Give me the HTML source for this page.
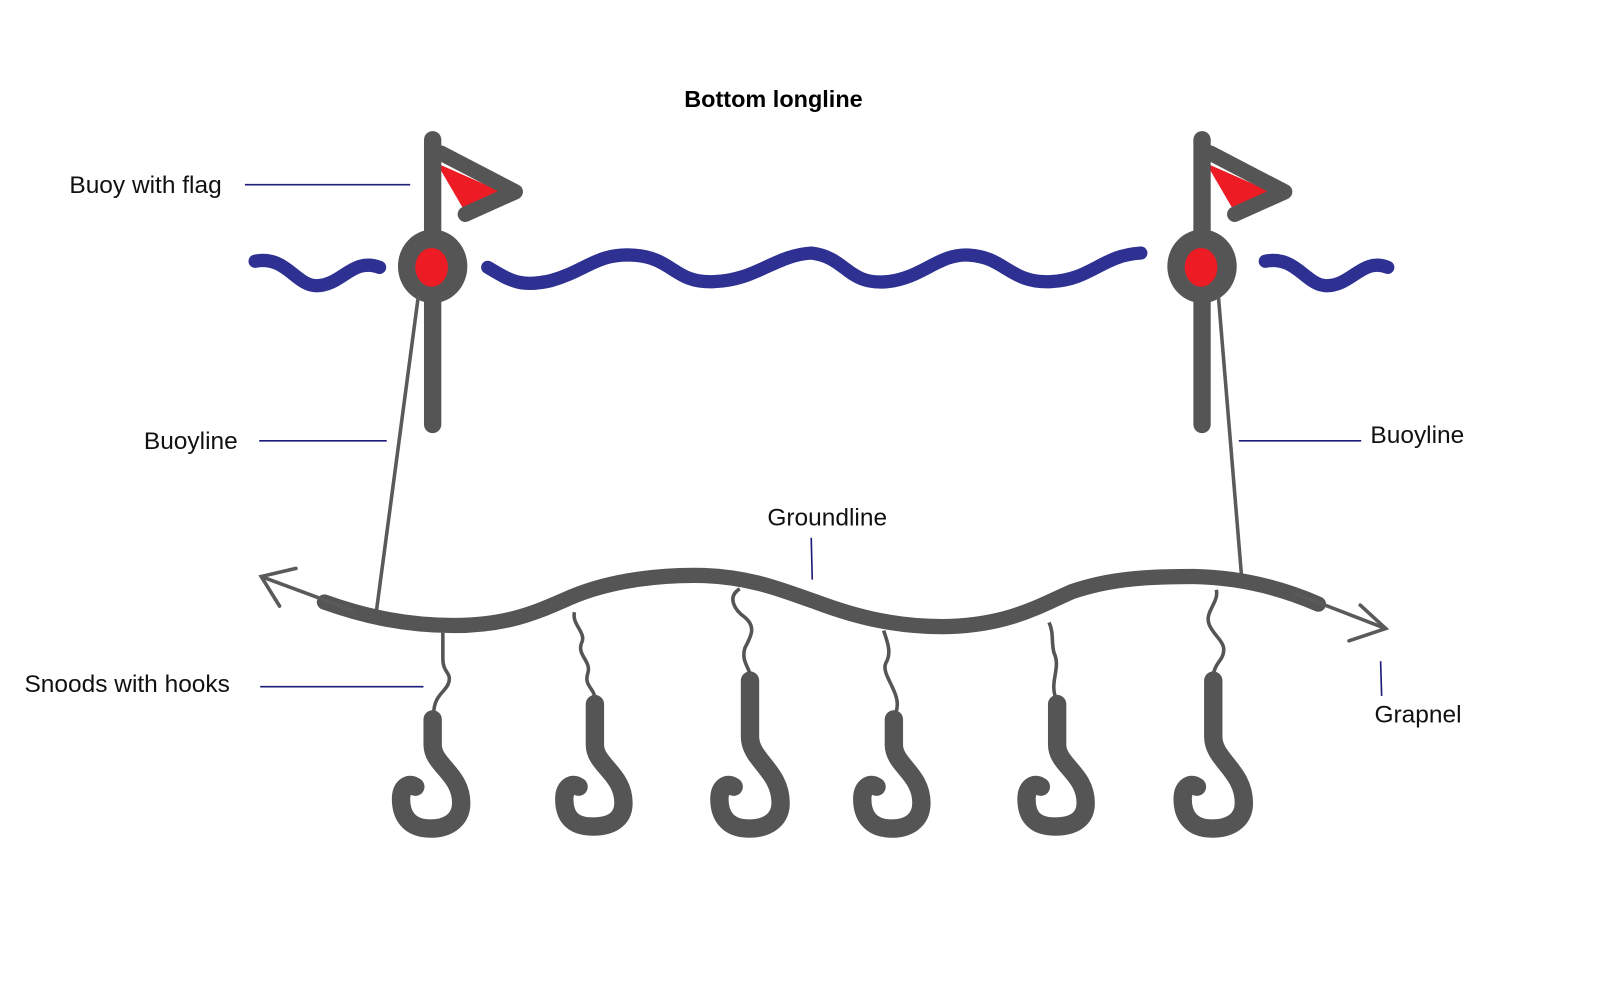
<!DOCTYPE html>
<html><head><style>html,body{margin:0;padding:0;background:#fff}svg{display:block}</style></head>
<body>
<svg width="1600" height="1000" viewBox="0 0 1568 980" preserveAspectRatio="none" xmlns="http://www.w3.org/2000/svg" font-family="Liberation Sans, sans-serif">
<rect width="1568" height="980" fill="#fff"/>
<text x="758" y="105" font-size="23" font-weight="bold" text-anchor="middle" fill="#000">Bottom longline</text>
<g font-size="24" fill="#111">
<text x="68" y="189">Buoy with flag</text>
<text x="141" y="440">Buoyline</text>
<text x="1343" y="434">Buoyline</text>
<text x="752" y="515">Groundline</text>
<text x="24" y="678">Snoods with hooks</text>
<text x="1347" y="708">Grapnel</text>
</g>
<g stroke="#1c1c7a" stroke-width="1.6">
<line x1="240" y1="181" x2="402" y2="181"/>
<line x1="254" y1="432" x2="379" y2="432"/>
<line x1="1214" y1="432" x2="1334" y2="432"/>
<line x1="795" y1="527" x2="796" y2="568"/>
<line x1="255" y1="673" x2="415" y2="673"/>
<line x1="1353" y1="648" x2="1354" y2="682"/>
</g>
<g fill="none" stroke="#2e3192" stroke-width="13" stroke-linecap="round">
<path d="M250 256 C280 250 290 280 310 280 C335 280 345 252 372 262"/>
<path d="M478 262 C500 275 510 282 540 275 C575 265 585 248 620 250 C660 252 660 278 700 276 C740 275 760 250 795 248 C830 252 830 280 870 276 C905 272 920 248 950 250 C985 252 990 278 1030 276 C1070 274 1080 250 1118 248"/>
<path d="M1240 256 C1270 250 1280 280 1300 280 C1325 280 1335 252 1360 262"/>
</g>
<polygon points="428,160 494,189 456,208" fill="#ed1c24"/>
<polygon points="1182,160 1248,189 1210,208" fill="#ed1c24"/>
<g stroke="#555" stroke-linecap="round" fill="none">
<line x1="424" y1="137" x2="424" y2="416" stroke-width="17"/>
<path d="M432 150 L505 188 L456 210" stroke-width="15" stroke-linejoin="round"/>
<line x1="1178" y1="137" x2="1178" y2="416" stroke-width="17"/>
<path d="M1186 150 L1259 188 L1210 210" stroke-width="15" stroke-linejoin="round"/>
</g>
<ellipse cx="424" cy="261" rx="34" ry="36" fill="#555"/>
<ellipse cx="423" cy="262" rx="16" ry="19" fill="#ed1c24"/>
<ellipse cx="1178" cy="261" rx="34" ry="36" fill="#555"/>
<ellipse cx="1177" cy="262" rx="16" ry="19" fill="#ed1c24"/>
<g stroke="#5a5a5a" stroke-width="3.5" fill="none">
<line x1="410" y1="290" x2="369" y2="598"/>
<line x1="1194" y1="290" x2="1217" y2="568"/>
</g>
<path d="M318 590 C360 605 400 613 445 613 C500 613 530 598 560 585 C600 568 650 563 690 564 C740 566 770 580 800 590 C840 605 880 615 930 614 C990 612 1020 593 1050 580 C1090 566 1130 565 1170 565 C1220 566 1260 578 1292 592" fill="none" stroke="#555" stroke-width="15" stroke-linecap="round"/>
<g stroke="#5a5a5a" stroke-width="3.5" fill="none" stroke-linecap="round">
<line x1="345" y1="598" x2="256" y2="565"/>
<polyline points="290,557 256,565 274,594"/>
<line x1="1270" y1="582" x2="1358" y2="616"/>
<polyline points="1333,593 1358,616 1322,628"/>
</g>
<g stroke="#555" stroke-width="3.5" fill="none">
<path d="M434 620 L434 645 C434 660 442 658 440 668 C438 678 425 680 425 700"/>
<path d="M563 600 C560 612 575 620 570 630 C565 642 580 648 576 660 C572 672 583 675 583 685"/>
<path d="M725 577 C712 585 720 598 730 605 C742 615 735 625 730 635 C726 648 735 655 735 662"/>
<path d="M866 618 C870 630 874 640 868 650 C863 662 885 680 878 698"/>
<path d="M1028 610 C1033 620 1030 630 1033 640 C1040 655 1028 668 1035 685"/>
<path d="M1192 578 C1195 590 1180 600 1185 612 C1190 625 1205 630 1197 645 C1192 652 1190 655 1189 662"/>
</g>
<g stroke="#555" stroke-width="18" fill="none" stroke-linecap="round">
<path d="M424 705 L424 730 C424 750 452 758 452 787 C452 805 437 812 422 812 C400 812 393 798 393 783 C393 772 400 766 407 771"/>
<path d="M583 690 L583 730 C583 750 611 758 611 787 C611 805 596 810 581 810 C559 810 553 798 553 783 C553 772 560 766 567 771"/>
<path d="M735 667 L735 722 C735 745 765 755 765 787 C765 805 750 812 734 812 C712 812 705 798 705 783 C705 772 712 766 719 771"/>
<path d="M876 705 L876 730 C876 750 903 758 903 787 C903 805 889 812 874 812 C852 812 845 798 845 783 C845 772 852 766 859 771"/>
<path d="M1036 690 L1036 730 C1036 750 1064 758 1064 787 C1064 805 1049 810 1034 810 C1012 810 1006 798 1006 783 C1006 772 1013 766 1020 771"/>
<path d="M1189 667 L1189 722 C1189 745 1219 755 1219 787 C1219 805 1204 812 1188 812 C1166 812 1159 798 1159 783 C1159 772 1166 766 1173 771"/>
</g>
</svg>
</body></html>
